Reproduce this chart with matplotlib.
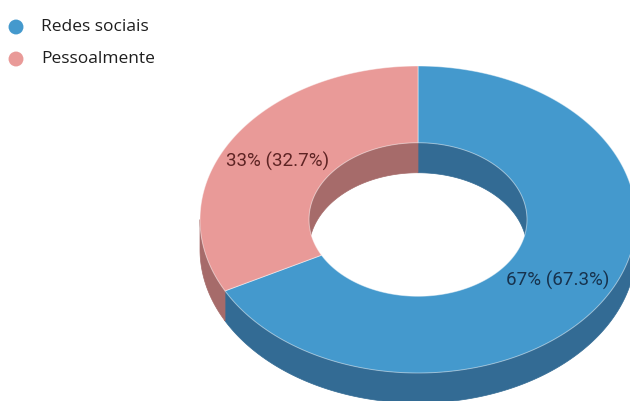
import numpy as np
import matplotlib.pyplot as plt
from matplotlib.patches import Polygon

# ── Data ────────────────────────────────────────────────────────────────────
categories  = ['Redes sociais', 'Pessoalmente']
shares      = [67.3, 32.7]
top_colors  = ['#4499CD', '#E99A98']
side_colors = ['#336B94', '#A66B6A']
text_colors = ['#17324D', '#5E2424']

# ── Donut geometry (pixel space) ────────────────────────────────────────────
W, H   = 630, 401
CX, CY = 418, 219.5
RX, RY = 218, 153.5
HOLE   = 0.5
DEPTH  = 30


def arc(a0, a1, scale, dy=0.0, n=240):
    """Points on the tilted ellipse; angles in degrees clockwise from 12 o'clock."""
    t = np.radians(np.linspace(a0, a1, n))
    return np.column_stack([CX + RX * scale * np.sin(t),
                            CY - RY * scale * np.cos(t) + dy])


def clip(a0, a1, lo, hi):
    s, e = max(a0, lo), min(a1, hi)
    return (s, e) if e > s else None


fig = plt.figure(figsize=(W / 100, H / 100), dpi=100)
ax = fig.add_axes([0, 0, 1, 1])
ax.set_xlim(0, W)
ax.set_ylim(H, 0)
ax.axis('off')

bounds = np.concatenate([[0], np.cumsum(shares)]) / 100 * 360
slices = list(zip(bounds[:-1], bounds[1:]))

# side walls: front half of the outer rim, back half of the inner rim
for (a0, a1), sc in zip(slices, side_colors):
    seg = clip(a0, a1, 90, 270)
    if seg:
        pts = np.vstack([arc(seg[0], seg[1], 1), arc(seg[1], seg[0], 1, DEPTH)])
        ax.add_patch(Polygon(pts, closed=True, fc=sc, ec=sc, lw=0.5, zorder=1))
    for lo, hi in [(0, 90), (270, 360)]:
        seg = clip(a0, a1, lo, hi)
        if seg:
            pts = np.vstack([arc(seg[0], seg[1], HOLE),
                             arc(seg[1], seg[0], HOLE, DEPTH)])
            ax.add_patch(Polygon(pts, closed=True, fc=sc, ec=sc, lw=0.5, zorder=1))

# top faces
for (a0, a1), tc in zip(slices, top_colors):
    pts = np.vstack([arc(a0, a1, 1), arc(a1, a0, HOLE)])
    ax.add_patch(Polygon(pts, closed=True, fc=tc, ec=(1, 1, 1, 0.45), lw=0.7, zorder=2))

# value labels at mid-angle of each slice
for (a0, a1), v, col in zip(slices, shares, text_colors):
    mid = (a0 + a1) / 2
    x, y = arc(mid, mid, 0.75, n=1)[0]
    ax.text(x, y + 1, f'{round(v)}% ({v}%)', ha='center', va='center',
            fontsize=13.5, family='Roboto', color=col, zorder=3)

# legend
for i, (cat, tc) in enumerate(zip(categories, top_colors)):
    y = 27 + 32 * i
    ax.scatter([16], [y], s=115, color=tc, edgecolors='none', zorder=3)
    ax.text(41, y, cat, ha='left', va='center', fontsize=12.5,
            family='Open Sans', color='#1E1E1E', zorder=3)

plt.savefig('out.png', dpi=100)
plt.close()
